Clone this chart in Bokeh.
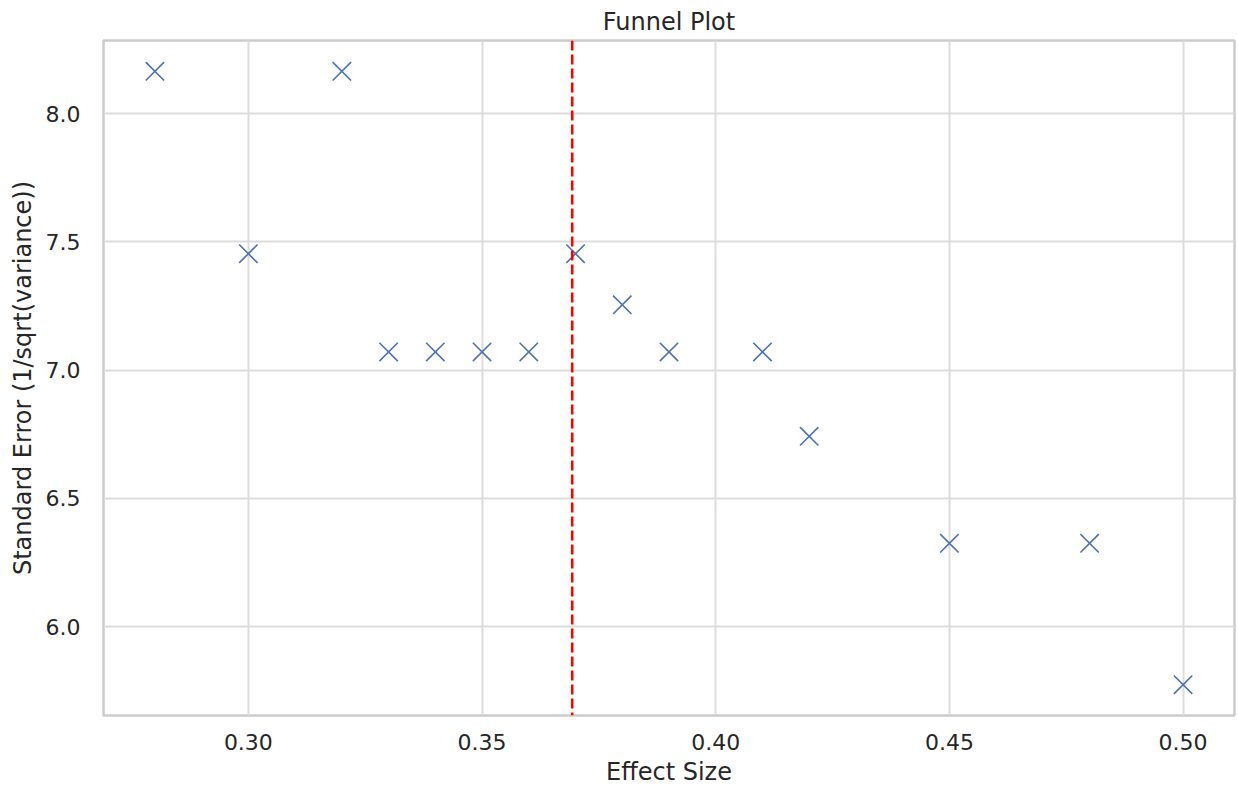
from bokeh.plotting import figure
from bokeh.models import Range1d, FixedTicker, PrintfTickFormatter, Span, ColumnDataSource
from bokeh.embed import file_html
from bokeh.resources import INLINE

# Data
effect_size = [0.28, 0.30, 0.32, 0.33, 0.34, 0.35, 0.36, 0.37, 0.38, 0.39, 0.41, 0.42, 0.45, 0.48, 0.50]
precision = [8.165, 7.454, 8.165, 7.071, 7.071, 7.071, 7.071, 7.454, 7.255, 7.071, 7.071, 6.742, 6.325, 6.325, 5.774]
pooled_effect = 0.3693
x_ticks = [0.30, 0.35, 0.40, 0.45, 0.50]
y_ticks = [6.0, 6.5, 7.0, 7.5, 8.0]

FONT = "DejaVu Sans"
TXT = "#262626"
GRID = "#dcdcdc"
EDGE = "#cccccc"

src = ColumnDataSource(dict(x=effect_size, y=precision))

p = figure(width=1238, height=788, output_backend="svg", toolbar_location=None,
           x_range=Range1d(0.269, 0.511), y_range=Range1d(5.654, 8.285),
           title="Funnel Plot", min_border_left=103, min_border_right=4,
           min_border_top=0, min_border_bottom=0)

p.title.align = "center"
p.title.text_font = FONT
p.title.text_font_size = "24px"
p.title.text_font_style = "normal"
p.title.text_color = TXT
p.title.standoff = 10

p.background_fill_color = "white"
p.border_fill_color = "white"
p.outline_line_color = EDGE
p.outline_line_width = 2.5

for ax in (p.xaxis[0], p.yaxis[0]):
    ax.axis_line_color = None
    ax.major_tick_line_color = None
    ax.minor_tick_line_color = None
    ax.major_tick_out = 0
    ax.major_tick_in = 0
    ax.minor_tick_out = 0
    ax.minor_tick_in = 0
    ax.major_label_text_font = FONT
    ax.major_label_text_font_size = "22px"
    ax.major_label_text_color = TXT
    ax.axis_label_text_font = FONT
    ax.axis_label_text_font_size = "24px"
    ax.axis_label_text_font_style = "normal"
    ax.axis_label_text_color = TXT

p.xaxis[0].major_label_standoff = 18
p.yaxis[0].major_label_standoff = 23
p.xaxis[0].ticker = FixedTicker(ticks=x_ticks)
p.yaxis[0].ticker = FixedTicker(ticks=y_ticks)
p.xaxis[0].formatter = PrintfTickFormatter(format="%.2f")
p.yaxis[0].formatter = PrintfTickFormatter(format="%.1f")
p.xaxis[0].axis_label = "Effect Size"
p.yaxis[0].axis_label = "Standard Error (1/sqrt(variance))"
p.xaxis[0].axis_label_standoff = 5
p.yaxis[0].axis_label_standoff = 6

p.xgrid.grid_line_color = GRID
p.ygrid.grid_line_color = GRID
p.xgrid.grid_line_width = 2
p.ygrid.grid_line_width = 2

p.scatter("x", "y", source=src, marker="x", size=26, line_color="#4c72b0", line_width=1.6)

p.add_layout(Span(location=pooled_effect, dimension="height", line_color="red",
                  line_dash="10 4", line_width=2.5))

open("out.html", "w").write(file_html(p, INLINE))
